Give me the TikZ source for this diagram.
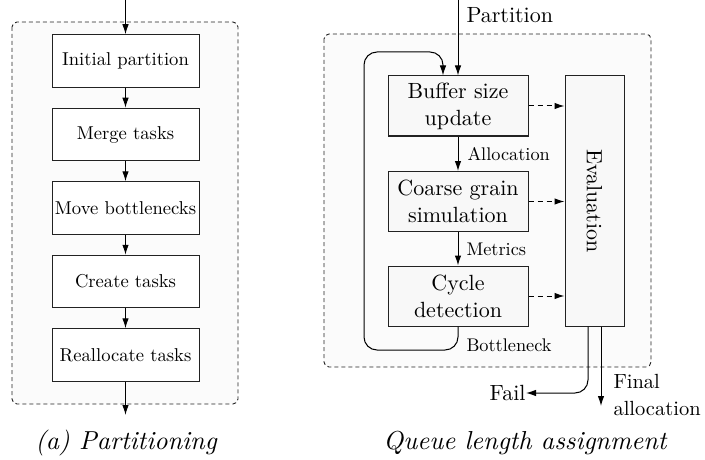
\documentclass[tikz,border=0pt]{standalone}
\usepackage{fontspec}
\setmainfont{lmroman10}[Extension=.otf,UprightFont=*-regular,ItalicFont=*-italic,BoldFont=*-bold]
\usetikzlibrary{arrows.meta,calc}
\definecolor{panelfill}{HTML}{FBFBFB}
\definecolor{boxfill}{HTML}{F8F8F8}
\definecolor{edge}{HTML}{222222}
\begin{document}
\begin{tikzpicture}[x=1pt,y=-1pt,
  line width=1pt,
  arr/.style={-{Latex[length=10pt,width=6.5pt]}},
  panel/.style={draw=edge,dashed,dash pattern=on 4pt off 3pt,rounded corners=5pt,fill=panelfill,line width=0.9pt},
  stagebox/.style={draw=edge,fill=white,minimum width=147pt,minimum height=52.5pt,inner sep=0pt,
    font=\fontsize{18.6}{22}\selectfont},
  qbox/.style={draw=edge,fill=boxfill,minimum width=140pt,minimum height=60pt,inner sep=0pt,align=center,
    font=\fontsize{22}{27}\selectfont},
  lbl/.style={anchor=west,inner sep=0pt,font=\fontsize{18.3}{22}\selectfont},
  txt/.style={inner sep=0pt,font=\fontsize{22}{27}\selectfont},
  captext/.style={inner sep=0pt,font=\fontsize{26}{30}\selectfont\itshape},
  dasharr/.style={arr,dashed,dash pattern=on 5pt off 4pt}
]
\useasboundingbox (0,0) rectangle (705,460);

% ---------- left: partitioning pipeline ----------
\draw[panel] (12,22) rectangle (238,404);
\node[stagebox] (init) at (125.5,61)    {Initial partition};
\node[stagebox] (merge) at (125.5,134.5) {Merge tasks};
\node[stagebox] (move) at (125.5,208)   {Move bottlenecks};
\node[stagebox] (create) at (125.5,281.5) {Create tasks};
\node[stagebox] (realloc) at (125.5,355) {Reallocate tasks};
\coordinate (pin) at (125.5,0);
\coordinate (pout) at (125.5,415);
\draw[arr] (pin) -- (init);
\draw[arr] (init) -- (merge);
\draw[arr] (merge) -- (move);
\draw[arr] (move) -- (create);
\draw[arr] (create) -- (realloc);
\draw[arr] (realloc) -- (pout);
\node[captext] (capa) at (126,443) {(a) Partitioning};

% ---------- right: queue length assignment ----------
\draw[panel] (324,34) rectangle (651,367);
\node[qbox] (buf) at (458,106)   {Buffer size\\update};
\node[qbox] (sim) at (458,201.5) {Coarse grain\\simulation};
\node[qbox] (cyc) at (458,296)   {Cycle\\detection};
\node[draw=edge,fill=boxfill,minimum width=59pt,minimum height=250pt,inner sep=0pt] (eval) at (594.5,201) {};
\node[txt,rotate=-90] (evaltxt) at (eval.center) {Evaluation};

\coordinate (qin) at (458,0);
\draw[arr] (qin) -- (buf.north);
\node[txt,anchor=west] (partlbl) at (466,15) {Partition};

\draw[arr] (buf) -- (sim);
\node[lbl] (alloclbl) at (467,154) {Allocation};
\draw[arr] (sim) -- (cyc);
\node[lbl] (metlbl) at (466,249) {Metrics};

% feedback loop from cycle detection back to the buffer update
\draw[arr,rounded corners=13pt] (cyc.south) -- (458,350) -- (364,350) -- (364,52)
  -- ([xshift=-15pt]buf.north |- 0,52) -- ([xshift=-15pt]buf.north);
\node[lbl] (botlbl) at (466,345) {Bottleneck};

\draw[dasharr] (buf.east) -- (buf.east -| eval.west);
\draw[dasharr] (sim.east) -- (sim.east -| eval.west);
\draw[dasharr] (cyc.east) -- (cyc.east -| eval.west);

% outcomes of the evaluation
\node[txt,anchor=east] (fail) at (526,393) {Fail};
\draw[arr,rounded corners=13pt] ([xshift=-6.5pt]eval.south) -- ([xshift=-6.5pt]eval.south |- 0,393) -- (fail.east);
\coordinate (fin) at (601,406);
\draw[arr] ([xshift=6.5pt]eval.south) -- (fin);
\node[inner sep=0pt,anchor=west,align=left,font=\fontsize{20.5}{27}\selectfont] (finlbl) at (613,395) {Final\\allocation};

\node[captext] (capb) at (525,443) {Queue length assignment};
\end{tikzpicture}
\end{document}
